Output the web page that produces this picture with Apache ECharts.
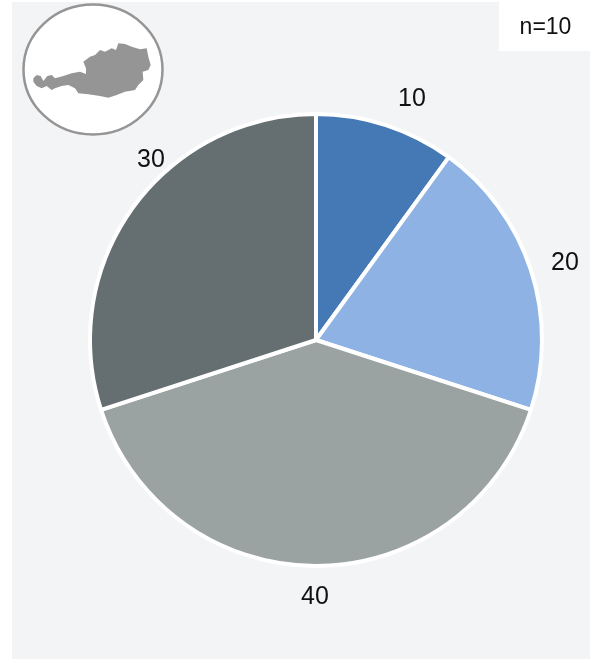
<!DOCTYPE html>
<html><head><meta charset="utf-8">
<style>html,body{margin:0;padding:0;background:#fff}#c{width:590px;height:659px}</style>
<script src="https://cdn.jsdelivr.net/npm/echarts@6/dist/echarts.min.js"></script></head>
<body><div id="c"></div>
<script>
var categories=['A','B','C','D'];
var values=[10,20,40,30];
var colors=['#4579b5','#8db2e3','#9aa2a2','#656f72'];
var note='n=10';
var austriaRaw=[[100,235],[110,225],[122,228],[130,243],[142,228],[155,225],[165,235],[190,228],[215,220],[240,215],[258,222],[258,205],[250,185],[270,170],[285,165],[300,150],[315,155],[335,145],[348,150],[355,130],[375,132],[395,140],[420,148],[440,145],[445,170],[452,195],[445,210],[428,215],[430,240],[415,255],[405,270],[375,275],[350,285],[325,293],[300,288],[265,283],[235,280],[225,265],[205,255],[185,258],[165,265],[155,270],[140,258],[125,265],[110,258],[100,245]];
var austria=austriaRaw.map(function(p){return [p[0]/3,p[1]/3];});
var labelCentres=[[412,99],[565,263],[315,597],[151,160]];
var chart=echarts.init(document.getElementById('c'),null,{renderer:'canvas'});
chart.setOption({
 animation:false,
 textStyle:{fontFamily:'Liberation Sans, Arial, sans-serif'},
 graphic:[
  {type:'rect',z:-10,shape:{x:12,y:2,width:578,height:657},style:{fill:'#f3f4f6'}},
  {type:'rect',z:-9,shape:{x:499,y:2,width:91,height:49},style:{fill:'#ffffff'}},
  {type:'text',z:5,style:{x:545.5,y:28,text:note,fill:'#111111',font:'23px Liberation Sans',align:'center',verticalAlign:'middle'}},
  {type:'ellipse',z:1,shape:{cx:93,cy:69.5,rx:69.5,ry:65},style:{fill:'#ffffff',stroke:'#959595',lineWidth:2.5}},
  {type:'polygon',z:2,shape:{points:austria},style:{fill:'#959595'}}
 ],
 series:[{type:'pie',center:[316,340],radius:[0,226],startAngle:90,clockwise:true,
  labelLine:{show:false},
  label:{show:true,position:'outside',fontSize:25,color:'#111111',formatter:'{c}',overflow:'none'},
  labelLayout:function(p){var c=labelCentres[p.dataIndex];return {x:c[0],y:c[1],align:'center',verticalAlign:'middle'};},
  itemStyle:{borderColor:'#ffffff',borderWidth:4},
  data:values.map(function(v,i){return {name:categories[i],value:v,itemStyle:{color:colors[i]}};})
 }]
});
</script></body></html>
